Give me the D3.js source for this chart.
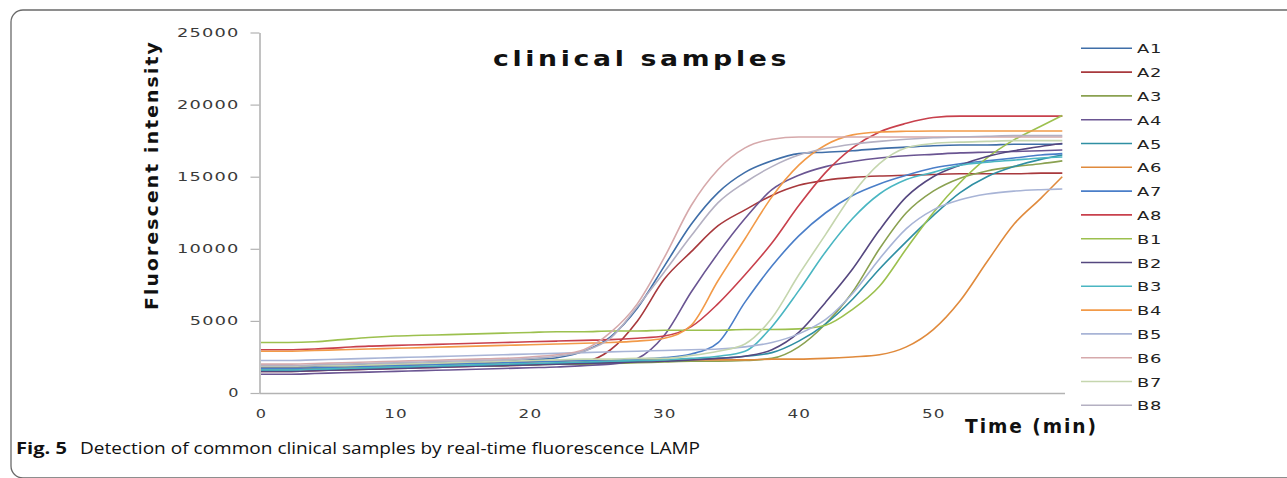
<!DOCTYPE html>
<html>
<head>
<meta charset="utf-8">
<script src="https://cdn.jsdelivr.net/npm/d3@7"></script>
<style>
  html, body { margin: 0; padding: 0; background: #fff; }
  svg { display: block; }
</style>
</head>
<body>
<svg id="chart" width="1287" height="478"></svg>
<script>
// ---------- data ----------
const times = [0,2,4,6,8,10,12,14,16,18,20,22,24,26,28,30,32,34,36,38,40,42,44,46,48,50,52,54,56,58,59.6];
const seriesNames = ["A1","A2","A3","A4","A5","A6","A7","A8","B1","B2","B3","B4","B5","B6","B7","B8"];
const seriesColors = ["#3f6ea8","#a8393d","#8aa150","#6a5592","#2f8fa3","#e08a3c","#4a7ec8","#c8404c",
                      "#9cc04e","#55477f","#4ab6c2","#f29a48","#a8b4d6","#d6a9ab","#c5d6ae","#b4b0c2"];
const A1 = [1800,1800,1850,1900,1950,2000,2050,2100,2150,2200,2300,2450,2900,3900,5900,8800,11700,13900,15300,16100,16600,16700,16800,16950,17050,17150,17200,17200,17250,17250,17270];
const A2 = [1500,1500,1550,1600,1650,1700,1750,1800,1850,1900,1950,2050,2150,3000,5000,7900,9800,11600,12700,13700,14400,14750,14950,15050,15100,15150,15200,15200,15200,15250,15250];
const A3 = [1700,1700,1700,1750,1750,1800,1800,1850,1850,1900,1950,2000,2000,2050,2100,2150,2200,2200,2250,2400,3200,4800,7000,10000,12500,14000,14900,15400,15700,15900,16100];
const A4 = [1300,1300,1350,1400,1450,1500,1550,1600,1650,1700,1750,1800,1900,2000,2400,4000,7000,9700,12100,14100,15100,15700,16050,16300,16450,16550,16650,16700,16750,16800,16850];
const A5 = [1600,1600,1650,1650,1700,1750,1800,1850,1900,1950,2000,2050,2100,2150,2200,2250,2300,2400,2550,2800,3600,4800,6500,8600,10500,12300,13900,15000,15700,16200,16500];
const A6 = [1700,1700,1750,1800,1850,1900,1950,2000,2050,2100,2150,2200,2250,2250,2300,2300,2300,2300,2300,2350,2350,2400,2500,2650,3200,4400,6400,9100,11700,13500,15000];
const A7 = [1700,1700,1750,1800,1850,1900,1950,2000,2050,2100,2150,2200,2250,2300,2350,2450,2700,3500,6300,8800,10900,12500,13700,14500,15100,15600,15900,16100,16300,16500,16600];
const A8 = [3000,3000,3050,3150,3250,3300,3350,3400,3450,3500,3550,3600,3650,3700,3800,3950,4600,6200,8200,10400,13000,15300,17000,18100,18700,19100,19200,19200,19200,19200,19200];
const B1 = [3500,3500,3550,3700,3850,3950,4000,4050,4100,4150,4200,4250,4250,4300,4300,4350,4350,4350,4400,4400,4450,4700,5800,7400,10000,12500,14600,16300,17550,18500,19250];
const B2 = [1500,1500,1550,1600,1650,1700,1750,1800,1850,1900,1950,2000,2050,2100,2150,2200,2300,2400,2550,3000,4200,6300,8600,11300,13600,15000,15800,16400,16800,17100,17300];
const B3 = [1600,1600,1650,1700,1750,1800,1850,1900,1950,2000,2050,2100,2150,2200,2250,2300,2400,2550,2900,4600,7100,9800,12100,13800,14800,15300,15800,16000,16150,16300,16370];
const B4 = [2900,2900,2950,3000,3050,3100,3150,3200,3250,3300,3350,3400,3450,3500,3600,3800,4700,7800,10700,13600,15800,17200,17900,18100,18150,18170,18170,18170,18170,18170,18170];
const B5 = [2250,2250,2300,2350,2400,2450,2500,2550,2600,2650,2700,2750,2800,2850,2900,2950,3000,3050,3200,3500,4100,5100,6900,9300,11400,12700,13400,13800,14000,14100,14150];
const B6 = [2000,2000,2050,2100,2150,2200,2250,2300,2350,2400,2500,2650,3000,4200,6200,9400,13000,15500,17000,17600,17750,17750,17750,17750,17750,17750,17750,17750,17750,17750,17750];
const B7 = [1850,1850,1900,1900,1950,2000,2050,2100,2150,2200,2250,2300,2350,2350,2400,2400,2600,2900,3400,5200,8200,11000,13800,15900,17000,17300,17400,17450,17500,17500,17500];
const B8 = [1900,1900,1950,2000,2050,2100,2150,2200,2250,2300,2400,2550,2900,3800,6000,8400,10900,13200,14600,15700,16500,16950,17250,17450,17600,17700,17750,17800,17850,17850,17850];
const seriesValues = [A1,A2,A3,A4,A5,A6,A7,A8,B1,B2,B3,B4,B5,B6,B7,B8];
const xTicks = [0,10,20,30,40,50];
const yTicks = [0,5000,10000,15000,20000,25000];
const titleText = "clinical samples";
const yTitle = "Fluorescent intensity";
const xTitle = "Time (min)";
const captionBold = "Fig. 5";
const captionText = "Detection of common clinical samples by real-time fluorescence LAMP";

// ---------- drawing ----------
const svg = d3.select("#chart");

// frame
svg.append("rect")
  .attr("x", 11).attr("y", 10).attr("width", 1300).attr("height", 468)
  .attr("rx", 12).attr("ry", 12)
  .attr("fill", "none").attr("stroke", "#6a6a6a").attr("stroke-width", 1.3);

const x = d3.scaleLinear().domain([0, 59.8]).range([261, 1065]);
const y = d3.scaleLinear().domain([0, 25000]).range([393, 32.5]);

const tickFont = "DejaVu Sans, sans-serif";

// y axis
const yAxis = svg.append("g")
  .attr("transform", "translate(259.5,0)")
  .call(d3.axisLeft(y).tickValues(yTicks).tickSize(9).tickSizeOuter(0).tickPadding(11).tickFormat(d3.format("d")));
yAxis.select(".domain").attr("stroke", "#b3b3b3").attr("stroke-width", 1.6);
yAxis.selectAll(".tick line").attr("stroke", "#b3b3b3").attr("stroke-width", 1.2);
yAxis.selectAll(".tick text")
  .attr("font-family", tickFont).attr("font-size", 12).attr("fill", "#3a3a3a")
  .attr("letter-spacing", 0.8)
  .attr("lengthAdjust", "spacingAndGlyphs")
  .attr("textLength", d => String(d).length * 12.8 - 1.5);

// x axis
const xAxis = svg.append("g")
  .attr("transform", "translate(0,393.5)")
  .call(d3.axisBottom(x).tickValues(xTicks).tickSize(0).tickSizeOuter(0).tickPadding(16));
xAxis.select(".domain").attr("stroke", "#b3b3b3").attr("stroke-width", 1.6)
  .attr("d", "M" + (259.5) + ",0H" + x.range()[1]);
xAxis.selectAll(".tick text")
  .attr("font-family", tickFont).attr("font-size", 12).attr("fill", "#3a3a3a")
  .attr("letter-spacing", 0.8)
  .attr("lengthAdjust", "spacingAndGlyphs")
  .attr("textLength", d => String(d).length * 12.3 - 1);

// lines
const line = d3.line()
  .x((d, i) => x(times[i]))
  .y(d => y(d))
  .curve(d3.curveMonotoneX);

svg.append("g").selectAll("path")
  .data(seriesValues)
  .join("path")
  .attr("d", d => line(d))
  .attr("fill", "none")
  .attr("stroke", (d, i) => seriesColors[i])
  .attr("stroke-width", 1.6)
  .attr("stroke-linejoin", "round");

// title
svg.append("text")
  .attr("x", 493).attr("y", 66)
  .attr("font-family", "DejaVu Sans, sans-serif").attr("font-weight", "bold")
  .attr("font-size", 22).attr("fill", "#111")
  .attr("letter-spacing", 3)
  .attr("textLength", 297).attr("lengthAdjust", "spacingAndGlyphs")
  .text(titleText);

// y title
svg.append("text")
  .attr("transform", "translate(158,310) rotate(-90)")
  .attr("font-family", "DejaVu Sans, sans-serif").attr("font-weight", "bold")
  .attr("font-size", 17.5).attr("fill", "#111")
  .attr("letter-spacing", 2)
  .attr("textLength", 270).attr("lengthAdjust", "spacingAndGlyphs")
  .text(yTitle);

// x title
svg.append("text")
  .attr("x", 965).attr("y", 433)
  .attr("font-family", "DejaVu Sans, sans-serif").attr("font-weight", "bold")
  .attr("font-size", 19).attr("fill", "#111")
  .attr("letter-spacing", 2)
  .attr("textLength", 133).attr("lengthAdjust", "spacingAndGlyphs")
  .text(xTitle);

// legend
const legend = svg.append("g");
const legY = i => 48.3 + i * 23.8;
legend.selectAll("line")
  .data(seriesNames)
  .join("line")
  .attr("x1", 1081).attr("x2", 1132)
  .attr("y1", (d, i) => legY(i)).attr("y2", (d, i) => legY(i))
  .attr("stroke", (d, i) => seriesColors[i]).attr("stroke-width", 1.6);
legend.selectAll("text")
  .data(seriesNames)
  .join("text")
  .attr("x", 1137).attr("y", (d, i) => legY(i) + 5)
  .attr("font-family", tickFont).attr("font-size", 13).attr("fill", "#222")
  .attr("letter-spacing", 0.5)
  .attr("textLength", 25).attr("lengthAdjust", "spacingAndGlyphs")
  .text(d => d);

// caption
svg.append("text")
  .attr("x", 16).attr("y", 454)
  .attr("font-family", "Open Sans, Noto Sans, sans-serif").attr("font-weight", "bold")
  .attr("font-size", 16).attr("fill", "#111")
  .attr("textLength", 51).attr("lengthAdjust", "spacingAndGlyphs")
  .text(captionBold);
svg.append("text")
  .attr("x", 80).attr("y", 454)
  .attr("font-family", "Open Sans, Noto Sans, sans-serif")
  .attr("font-size", 16).attr("fill", "#111")
  .attr("textLength", 620).attr("lengthAdjust", "spacingAndGlyphs")
  .text(captionText);
</script>
</body>
</html>
